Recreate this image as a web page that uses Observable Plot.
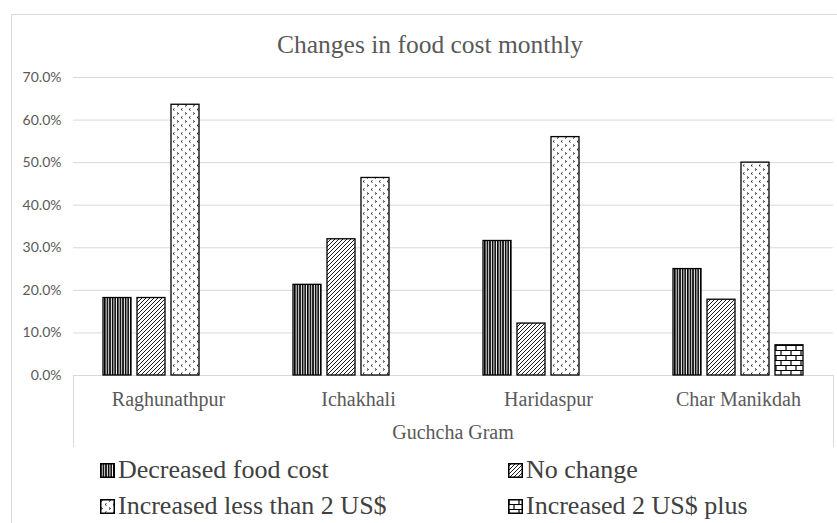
<!DOCTYPE html>
<html>
<head>
<meta charset="utf-8">
<script src="https://cdn.jsdelivr.net/npm/d3@7"></script>
<script src="https://cdn.jsdelivr.net/npm/@observablehq/plot@0.6"></script>
<style>
  html, body { margin: 0; padding: 0; background: #fff; }
  #wrap { position: relative; width: 837px; height: 523px; overflow: hidden; background: #fff; }
  #border { position: absolute; left: 11px; top: 14px; width: 900px; height: 600px; border: 1px solid #d9d9d9; box-sizing: border-box; }
  #catbox { position: absolute; left: 73px; top: 375px; width: 761px; height: 72px; border-left: 1px solid #d9d9d9; border-right: 1px solid #d9d9d9; box-sizing: border-box; }
  #chart { position: absolute; left: 0; top: 0; }
  .serif, .serif span { font-family: "Liberation Serif", "Times New Roman", serif; }
  .serif { position: absolute; white-space: nowrap; line-height: 1; }
  #title { left: 430px; top: 32px; font-size: 25.5px; color: #595959; transform: translateX(-50%); }
  #xtitle { left: 453px; top: 422px; font-size: 20px; color: #595959; transform: translateX(-50%); }
  .leg { display: flex; align-items: center; font-size: 26px; color: #404040; }
  .leg svg { margin-right: 3px; flex: none; }
</style>
</head>
<body>
<svg width="0" height="0" style="position:absolute">
  <defs>
    <pattern id="pat0" patternUnits="userSpaceOnUse" width="2.6" height="6">
      <rect width="2.6" height="6" fill="#fff"/>
      <rect x="0" width="1.6" height="6" fill="#000"/>
    </pattern>
    <pattern id="pat1" patternUnits="userSpaceOnUse" width="4" height="4">
      <rect width="4" height="4" fill="#fff"/>
      <path d="M-1,1 L1,-1 M0,4 L4,0 M3,5 L5,3" stroke="#000" stroke-width="0.9"/>
    </pattern>
    <pattern id="pat2" patternUnits="userSpaceOnUse" width="8" height="8">
      <rect width="8" height="8" fill="#fff"/>
      <path d="M1,0.5 L2.5,1.5 L1,2.5 M6.5,4.5 L5,5.5 L6.5,6.5" stroke="#000" stroke-width="0.8" fill="none"/>
    </pattern>
    <pattern id="pat3" patternUnits="userSpaceOnUse" width="10" height="10">
      <rect width="10" height="10" fill="#fff"/>
      <path d="M0,0.5 H10 M0,5.5 H10 M1,0 V5 M6,5 V10" stroke="#000" stroke-width="1.2"/>
    </pattern>
  </defs>
</svg>
<div id="wrap">
  <div id="border"></div>
  <div id="catbox"></div>
  <div id="chart"></div>
  <div id="title" class="serif">Changes in food cost monthly</div>
  <div id="xtitle" class="serif">Guchcha Gram</div>
  <div id="legend"></div>
</div>
<script>
const categories = ["Raghunathpur", "Ichakhali", "Haridaspur", "Char Manikdah"];
const series = ["Decreased food cost", "No change", "Increased less than 2 US$", "Increased 2 US$ plus"];
const decreasedFoodCost = [18.2, 21.3, 31.6, 25.0];
const noChange = [18.2, 32.0, 12.2, 17.8];
const increasedLessThan2 = [63.6, 46.4, 56.0, 50.0];
const increased2Plus = [null, null, null, 7.1];
const yTicks = [0, 10, 20, 30, 40, 50, 60, 70];
const patterns = ["url(#pat0)", "url(#pat1)", "url(#pat2)", "url(#pat3)"];

const seriesValues = [decreasedFoodCost, noChange, increasedLessThan2, increased2Plus];
const data = [];
categories.forEach((c, i) => {
  series.forEach((s, j) => {
    const v = seriesValues[j][i];
    if (v != null) data.push({category: c, series: s, value: v});
  });
});

const chart = Plot.plot({
  width: 837,
  height: 523,
  marginLeft: 73,
  marginRight: 4,
  marginTop: 77,
  marginBottom: 148,
  style: {background: "transparent", overflow: "visible"},
  fx: {domain: categories, padding: 0, label: null, axis: null},
  x: {domain: series, paddingInner: 0.19, paddingOuter: 0.834, axis: null},
  y: {domain: [0, 70], label: null},
  color: {domain: series, range: patterns},
  marks: [
    Plot.gridY(yTicks, {stroke: "#d9d9d9", strokeOpacity: 1, strokeWidth: 1}),
    Plot.axisY(yTicks, {
      tickSize: 0, tickPadding: 12, label: null,
      tickFormat: d => d.toFixed(1) + "%",
      fontSize: 14, fontFamily: "Lato", color: "#595959"
    }),
    Plot.axisFx({
      anchor: "bottom",
      tickSize: 0, tickPadding: 16, label: null,
      fontSize: 20, fontFamily: "Liberation Serif", color: "#595959"
    }),
    Plot.barY(data, {
      fx: "category", x: "series", y: "value", fill: "series",
      stroke: "#000", strokeWidth: 1.3
    })
  ]
});
document.getElementById("chart").appendChild(chart);

// legend
const legend = document.getElementById("legend");
const legPos = [
  {left: 100, top: 457}, {left: 508, top: 457},
  {left: 100, top: 493}, {left: 508, top: 493}
];
series.forEach((s, i) => {
  const item = document.createElement("div");
  item.className = "serif leg";
  item.style.left = legPos[i].left + "px";
  item.style.top = legPos[i].top + "px";
  item.innerHTML = `<svg width="15" height="15"><rect x="0.75" y="0.75" width="13.5" height="13.5" fill="${patterns[i]}" stroke="#000" stroke-width="1.5"/></svg><span>${s}</span>`;
  legend.appendChild(item);
});
</script>
</body>
</html>
